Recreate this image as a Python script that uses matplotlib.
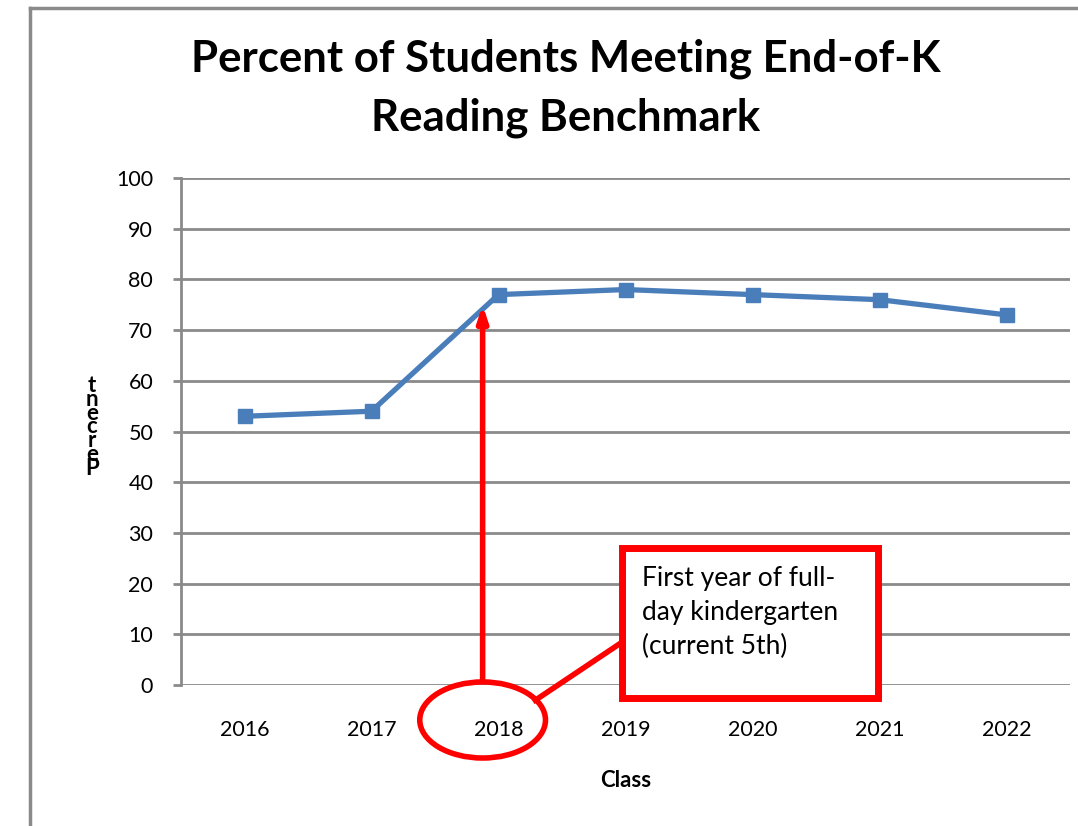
import matplotlib.pyplot as plt
from matplotlib.patches import Ellipse, Rectangle
from matplotlib.lines import Line2D

plt.rcParams['font.family'] = ['Lato', 'DejaVu Sans']

# data
classes = ['2016', '2017', '2018', '2019', '2020', '2021', '2022']
percent = [53, 54, 77, 78, 77, 76, 73]
yticks = [0, 10, 20, 30, 40, 50, 60, 70, 80, 90, 100]

title = 'Percent of Students Meeting End-of-K\nReading Benchmark'
note = 'First year of full-\nday kindergarten\n(current 5th)'

grid_col = '#8a8a8a'
blue = '#4a7ebb'
red = '#ff0000'

fig = plt.figure(figsize=(10.78, 8.26), dpi=100)
ax = fig.add_axes([181 / 1078, 141 / 826, 889 / 1078, 507 / 826])

x = list(range(len(classes)))
ax.plot(x, percent, color=blue, lw=3.8, marker='s', markersize=10,
        markeredgecolor=blue, zorder=3)

ax.set_xlim(-0.5, len(classes) - 0.5)
ax.set_ylim(0, 100)
ax.set_yticks(yticks)
ax.set_xticks(x)
ax.set_xticklabels(classes)
ax.yaxis.grid(True, color=grid_col, lw=2)
ax.set_axisbelow(True)
for s in ['top', 'right', 'bottom']:
    ax.spines[s].set_visible(False)
ax.spines['left'].set_color(grid_col)
ax.spines['left'].set_linewidth(2)
ax.tick_params(axis='y', length=6, width=2, color=grid_col, labelsize=15.5, pad=14)
ax.tick_params(axis='x', length=0, labelsize=15.5, pad=25)
ax.set_xlabel('Class', fontsize=16, fontweight='bold', labelpad=22)

fig.text(0.525, 0.893, title, ha='center', va='center', fontsize=31.5,
         fontweight='bold', linespacing=1.55)

# garbled y label, letters stacked
fig.text(92 / 1078, 1 - 427 / 826, '\n'.join('tnecreP'), ha='center',
         va='center', fontsize=16, fontweight='bold', linespacing=0.57)

# annotation: arrow, ellipse, callout box
ax.annotate('', xy=(1.875, 75.5), xytext=(1.875, 0.5),
            arrowprops=dict(arrowstyle='-|>,head_length=0.9,head_width=0.3',
                            color=red, lw=4), zorder=4)
ax.add_patch(Ellipse((1.875, -6.9), 0.99, 15, fill=False, ec=red, lw=4,
                     clip_on=False))
ax.add_line(Line2D([2.29, 3.0], [-3.0, 8.9], color=red, lw=4, clip_on=False))
ax.add_patch(Rectangle((2.975, -2.6), 2.01, 29.6, fill=True, fc='white',
                       ec=red, lw=5, clip_on=False, zorder=5))
ax.text(3.13, 23.4, note, ha='left', va='top', fontsize=19, linespacing=1.45,
        zorder=6)

# chart frame
fig.add_artist(Line2D([30 / 1078, 30 / 1078], [0, 1 - 8 / 826],
                      transform=fig.transFigure, color=grid_col, lw=2.5))
fig.add_artist(Line2D([30 / 1078, 1], [1 - 8 / 826, 1 - 8 / 826],
                      transform=fig.transFigure, color=grid_col, lw=2.5))

fig.savefig('out.png', dpi=100)
